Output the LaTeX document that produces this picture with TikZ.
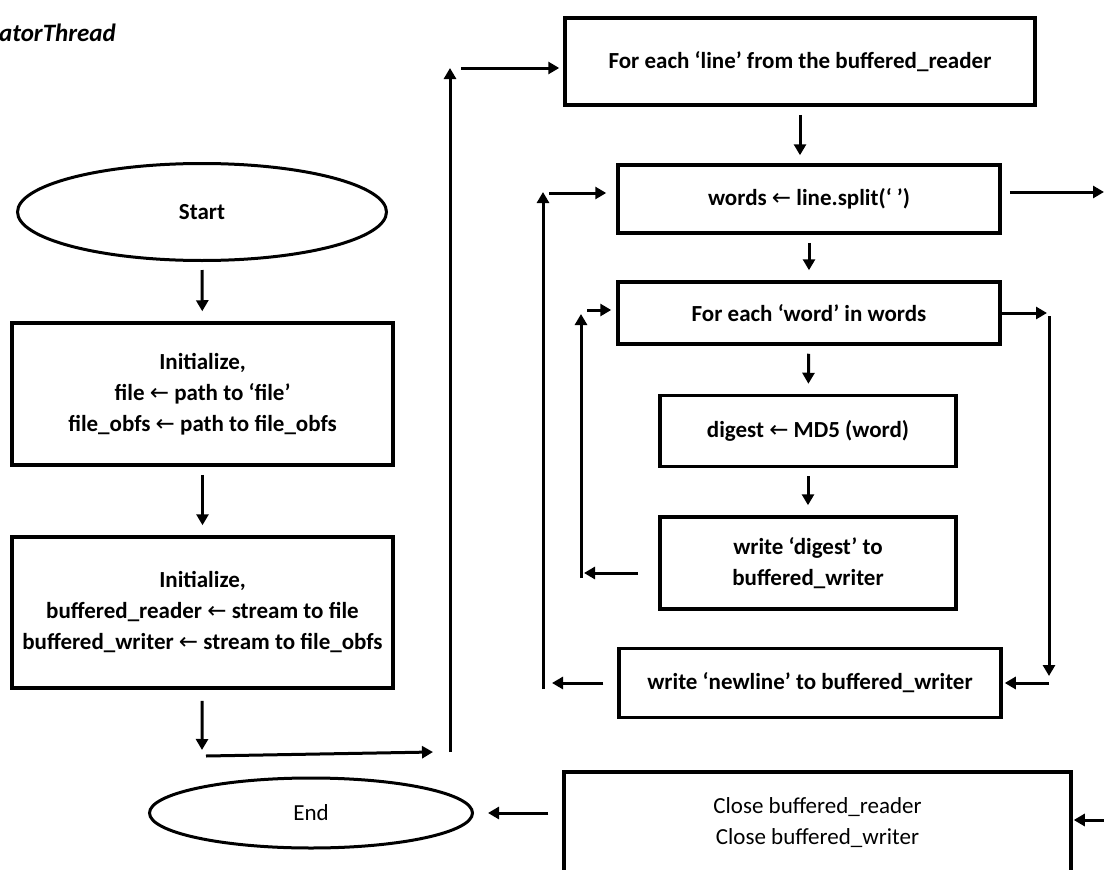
\documentclass[tikz,border=0pt]{standalone}
\usepackage{fontspec}
\setmainfont{Carlito}
\newfontfamily\symfont{DejaVu Sans}
\usetikzlibrary{shapes.geometric,arrows.meta}
\newcommand{\getsarrow}{{\symfont\mdseries ←}}
\tikzset{
	box/.style={rectangle, draw, line width=3.5pt, align=center, inner sep=0pt, font=\bfseries\fontsize{23}{31}\selectfont},
	oval/.style={ellipse, draw, line width=3pt, inner sep=0pt, font=\fontsize{23}{31}\selectfont},
	arr/.style={line width=3pt, -{Triangle[length=11pt,width=12pt]}},
}
\begin{document}
\begin{tikzpicture}[x=1pt,y=-1pt]
			\useasboundingbox (0,0) rectangle (1104,870);
			\node[anchor=west, inner sep=0pt, font=\bfseries\itshape\fontsize{25}{28}\selectfont] (title) at (-1,33) {atorThread};
			
			\node[oval, font=\bfseries\fontsize{23}{31}\selectfont, minimum width=369pt, minimum height=97pt] (start) at (202,212) {Start};
			\node[box, minimum width=381pt, minimum height=142pt] (initA) at (202.5,394) {Initialize,\\file \getsarrow{} path to ‘file’\\file\_obfs \getsarrow{} path to file\_obfs};
			\node[box, minimum width=381pt, minimum height=151pt] (initB) at (202.5,612.5) {Initialize,\\buffered\_reader \getsarrow{} stream to file\\buffered\_writer \getsarrow{} stream to file\_obfs};
			
			\node[box, minimum width=470pt, minimum height=87pt] (lineloop) at (800,61.5) {For each ‘line’ from the buffered\_reader};
			\node[box, minimum width=382pt, minimum height=68pt] (split) at (809,199) {words \getsarrow{} line.split(‘ ’)};
			\node[box, minimum width=382pt, minimum height=62pt] (wordloop) at (809,313) {For each ‘word’ in words};
			\node[box, minimum width=296pt, minimum height=71pt] (digest) at (808,431) {digest \getsarrow{} MD5 (word)};
			\node[box, minimum width=296pt, minimum height=92pt] (wdigest) at (808,563) {write ‘digest’ to\\buffered\_writer};
			\node[box, minimum width=382pt, minimum height=69pt] (newline) at (810,683) {write ‘newline’ to buffered\_writer};
			
			\node[box, font=\fontsize{23}{31}\selectfont, minimum width=507pt, minimum height=102pt] (close) at (817.5,823) {Close buffered\_reader\\Close buffered\_writer};
			\node[oval, minimum width=323pt, minimum height=70pt] (finish) at (311,813) {End};
			
			\coordinate (a1) at (202,750);
			\coordinate (a2) at (206,756);
			\coordinate (a3) at (433,752);
			\coordinate (a4) at (450,752);
			\coordinate (a5) at (450,68);
			\coordinate (a6) at (461,68);
			\coordinate (b1) at (638,573);
			\coordinate (b2) at (584,573);
			\coordinate (b3) at (581,578);
			\coordinate (b4) at (581,314);
			\coordinate (b5) at (587,310);
			\coordinate (c1) at (543,689);
			\coordinate (c2) at (543,192);
			\coordinate (c3) at (549,193);
			\coordinate (c4) at (552,683);
			\coordinate (d1) at (1047,313);
			\coordinate (d2) at (1049,316);
			\coordinate (d3) at (1049,676);
			\coordinate (d4) at (1049,683);
			\coordinate (e1) at (1104,192);
			\coordinate (e2) at (1104,820);
			
			\foreach \from/\to in {start/initA,initA/initB,split/wordloop,wordloop/digest,digest/wdigest}
			\draw[arr, shorten <=8pt, shorten >=10pt] (\from) -- (\to);
			\draw[arr, shorten <=8pt, shorten >=8pt] (lineloop.south) -- (lineloop.south |- split.north);
			
			\draw[arr, shorten <=11pt] (initB) -- (a1);
			\foreach \from/\to in {a2/a3,a4/a5,b1/b2,b3/b4,c1/c2,d2/d3}
			\draw[arr] (\from) -- (\to);
			\draw[arr, shorten >=4pt] (a6) -- (lineloop.west |- a6);
			\draw[arr, shorten >=5pt] (b5) -- (wordloop.west |- b5);
			\draw[arr, shorten >=10pt] (c3) -- (split.west |- c3);
			\draw[arr, shorten <=14pt] (newline.west) -- (c4);
			\draw[arr] (wordloop.east |- d1) -- (d1);
			\draw[arr, shorten >=2pt] (d4) -- (newline.east |- d4);
			\draw[arr, shorten <=8pt] (split.east |- e1) -- (e1);
			\draw[arr, shorten >=1pt] (e2) -- (close.east |- e2);
			\draw[arr, shorten <=14pt, shorten >=14pt] (close.west |- finish) -- (finish);
		\end{tikzpicture}
\end{document}
